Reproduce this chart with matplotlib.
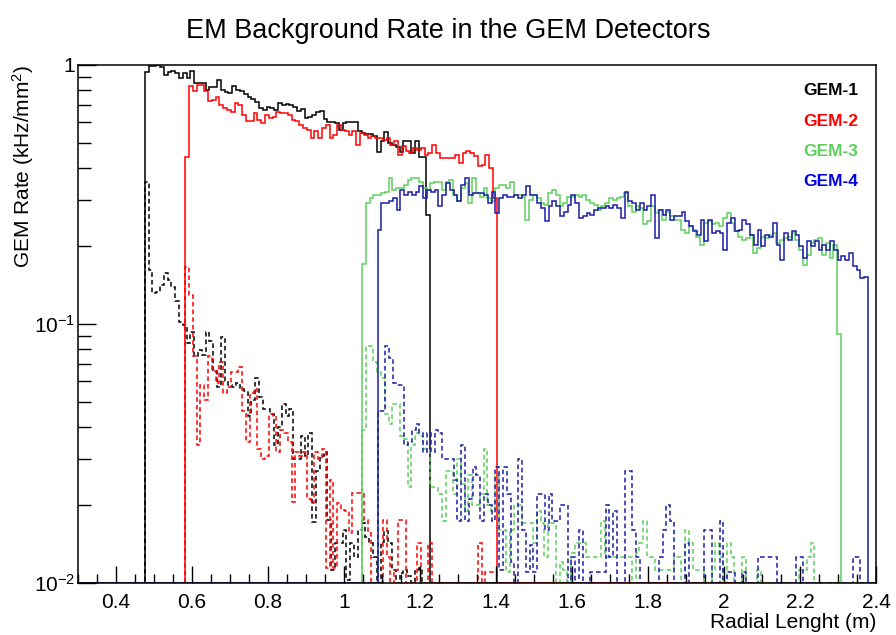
import numpy as np
import matplotlib
matplotlib.use("Agg")
import matplotlib.pyplot as plt
from matplotlib.lines import Line2D
from matplotlib.ticker import FixedLocator, MultipleLocator, LogLocator, NullFormatter

plt.rcParams['font.family'] = ['Liberation Sans', 'DejaVu Sans']
plt.rcParams['mathtext.fontset'] = 'custom'
plt.rcParams['mathtext.rm'] = 'Liberation Sans'
plt.rcParams['mathtext.it'] = 'Liberation Sans:italic'

# histogram binning (m)
bin_width = 0.01
start_gem1 = 0.476
start_gem2 = 0.582
start_gem3 = 1.047
start_gem4 = 1.088

# total rate (solid), kHz/mm^2
gem1_total = [0.94, 0.99, 0.99, 1.0, 0.98, 0.915, 0.94, 0.95, 0.93, 0.89, 0.93, 0.89, 0.95, 0.85, 0.85,
              0.85, 0.80, 0.82, 0.82, 0.875, 0.80, 0.787, 0.78, 0.83, 0.80, 0.79, 0.77, 0.754, 0.74, 0.72,
              0.68, 0.67, 0.69, 0.68, 0.67, 0.71, 0.70, 0.705, 0.70, 0.69, 0.665, 0.675, 0.625, 0.63, 0.64,
              0.66, 0.665, 0.62, 0.60, 0.60, 0.595, 0.56, 0.595, 0.60, 0.60, 0.60, 0.555, 0.545, 0.54, 0.54,
              0.53, 0.46, 0.51, 0.55, 0.50, 0.49, 0.48, 0.46, 0.51, 0.51, 0.455, 0.51, 0.44, 0.44, 0.263]
gem2_total = [0.44, 0.825, 0.789, 0.837, 0.837, 0.789, 0.722, 0.733, 0.754, 0.701, 0.681, 0.670, 0.660,
              0.711, 0.701, 0.641, 0.604, 0.604, 0.651, 0.613, 0.595, 0.641, 0.622, 0.631, 0.660, 0.651,
              0.651, 0.641, 0.613, 0.604, 0.586, 0.569, 0.561, 0.521, 0.553, 0.521, 0.569, 0.586, 0.521,
              0.537, 0.586, 0.561, 0.553, 0.537, 0.553, 0.491, 0.545, 0.537, 0.521, 0.529, 0.521, 0.521,
              0.513, 0.521, 0.491, 0.506, 0.449, 0.484, 0.463, 0.456, 0.477, 0.470, 0.477, 0.449, 0.456,
              0.491, 0.456, 0.436, 0.436, 0.436, 0.436, 0.449, 0.417, 0.456, 0.463, 0.456, 0.443, 0.405,
              0.411, 0.449, 0.399, 0.306]
gem3_total = [0.170, 0.292, 0.306, 0.315, 0.315, 0.320, 0.324, 0.366, 0.329, 0.334, 0.334, 0.344, 0.360,
              0.366, 0.366, 0.354, 0.334, 0.329, 0.349, 0.354, 0.354, 0.329, 0.354, 0.360, 0.315, 0.297,
              0.334, 0.349, 0.292, 0.366, 0.320, 0.310, 0.334, 0.306, 0.297, 0.334, 0.344, 0.344, 0.334,
              0.354, 0.315, 0.315, 0.310, 0.252, 0.301, 0.315, 0.306, 0.292, 0.288, 0.320, 0.329, 0.315,
              0.284, 0.292, 0.310, 0.310, 0.315, 0.310, 0.315, 0.301, 0.292, 0.288, 0.275, 0.284, 0.292,
              0.306, 0.301, 0.306, 0.310, 0.320, 0.284, 0.271, 0.284, 0.279, 0.242, 0.249, 0.284, 0.267,
              0.275, 0.252, 0.271, 0.260, 0.252, 0.252, 0.231, 0.224, 0.238, 0.231, 0.217, 0.202, 0.245,
              0.249, 0.242, 0.245, 0.238, 0.256, 0.267, 0.245, 0.228, 0.217, 0.211, 0.214, 0.221, 0.187,
              0.196, 0.217, 0.214, 0.221, 0.224, 0.205, 0.211, 0.214, 0.217, 0.224, 0.211, 0.193, 0.169,
              0.185, 0.205, 0.211, 0.214, 0.185, 0.205, 0.179, 0.202, 0.091]
gem4_total = [0.231, 0.292, 0.292, 0.297, 0.306, 0.275, 0.329, 0.315, 0.324, 0.315, 0.324, 0.339, 0.306,
              0.329, 0.324, 0.329, 0.284, 0.315, 0.349, 0.329, 0.315, 0.297, 0.344, 0.366, 0.315, 0.320,
              0.320, 0.320, 0.315, 0.292, 0.324, 0.267, 0.306, 0.315, 0.310, 0.310, 0.315, 0.306, 0.315,
              0.339, 0.315, 0.315, 0.292, 0.279, 0.249, 0.284, 0.297, 0.284, 0.260, 0.271, 0.288, 0.315,
              0.292, 0.256, 0.260, 0.267, 0.264, 0.275, 0.279, 0.279, 0.284, 0.279, 0.288, 0.279, 0.256,
              0.324, 0.297, 0.292, 0.275, 0.292, 0.275, 0.284, 0.315, 0.214, 0.275, 0.264, 0.275, 0.252,
              0.260, 0.260, 0.271, 0.249, 0.238, 0.228, 0.221, 0.252, 0.208, 0.252, 0.224, 0.228, 0.224,
              0.193, 0.245, 0.256, 0.228, 0.231, 0.252, 0.242, 0.221, 0.202, 0.231, 0.199, 0.221, 0.217,
              0.245, 0.202, 0.177, 0.224, 0.211, 0.228, 0.221, 0.199, 0.179, 0.208, 0.199, 0.208, 0.193,
              0.202, 0.193, 0.208, 0.193, 0.177, 0.182, 0.177, 0.187, 0.167, 0.162, 0.150, 0.152]

# EM background part (dashed)
gem1_em = [0.354, 0.162, 0.131, 0.133, 0.141, 0.157, 0.148, 0.139, 0.122, 0.102, 0.099, 0.084, 0.093,
           0.075, 0.079, 0.076, 0.093, 0.086, 0.066, 0.057, 0.089, 0.060, 0.058, 0.057, 0.059, 0.056,
           0.055, 0.044, 0.051, 0.062, 0.052, 0.047, 0.047, 0.045, 0.034, 0.040, 0.049, 0.044, 0.047,
           0.030, 0.030, 0.037, 0.031, 0.038, 0.0172, 0.027, 0.031, 0.032, 0.0175, 0.0112, 0.0142,
           0.0142, 0.016, 0.0103, 0.0142, 0.0126, 0.016, 0.017, 0.0151, 0.0142, 0.0126, 0.0, 0.0144,
           0.0158, 0.0142, 0.0112, 0.0, 0.0109, 0.0112, 0.0106, 0.0, 0.0112, 0.0114, 0.0, 0.0]
gem2_em = [0.166, 0.129, 0.075, 0.034, 0.058, 0.051, 0.075, 0.066, 0.059, 0.071, 0.054, 0.057, 0.065,
           0.065, 0.068, 0.046, 0.035, 0.054, 0.056, 0.033, 0.030, 0.031, 0.045, 0.044, 0.032, 0.039,
           0.038, 0.035, 0.0206, 0.032, 0.031, 0.032, 0.021, 0.0203, 0.032, 0.030, 0.033, 0.0114, 0.025,
           0.0114, 0.0203, 0.0191, 0.0189, 0.0156, 0.0222, 0.0222, 0.0222, 0.0175, 0.0156, 0.0, 0.0,
           0.0, 0.0175, 0.0126, 0.0, 0.0112, 0.0175, 0.0175, 0.0, 0.0, 0.0, 0.0143, 0.0, 0.0, 0.0143,
           0.0, 0.0, 0.0, 0.0, 0.0, 0.0, 0.0, 0.0, 0.0, 0.0, 0.0, 0.0, 0.0143, 0.0, 0.011, 0.011, 0.011]
gem3_em = [0.039, 0.082, 0.082, 0.071, 0.065, 0.062, 0.045, 0.041, 0.049, 0.049, 0.037, 0.036, 0.0235,
           0.034, 0.038, 0.037, 0.033, 0.033, 0.0235, 0.0235, 0.022, 0.0173, 0.027, 0.027, 0.022, 0.030,
           0.024, 0.019, 0.026, 0.020, 0.020, 0.022, 0.033, 0.020, 0.019, 0.026, 0.016, 0.016, 0.011,
           0.016, 0.020, 0.020, 0.017, 0.017, 0.017, 0.0142, 0.019, 0.017, 0.0126, 0.017, 0.017, 0.0,
           0.012, 0.0112, 0.0, 0.013, 0.0142, 0.0142, 0.0142, 0.0126, 0.0126, 0.0126, 0.0126, 0.0173,
           0.0126, 0.0126, 0.0126, 0.0126, 0.0126, 0.0126, 0.0126, 0.0, 0.013, 0.0142, 0.0173, 0.0126,
           0.0126, 0.0112, 0.0112, 0.0112, 0.0112, 0.0112, 0.0126, 0.0126, 0.0, 0.016, 0.0142, 0.0112,
           0.0112, 0.0112, 0.0, 0.0, 0.0112, 0.0142, 0.0126, 0.0, 0.0142, 0.0126, 0.0, 0.0, 0.0126, 0.0,
           0.0, 0.0, 0.0112, 0.0, 0.0, 0.0, 0.0, 0.0, 0.0, 0.0, 0.0, 0.0, 0.0, 0.0112, 0.0112, 0.0126,
           0.0142, 0.0, 0.0, 0.0, 0.0, 0.0, 0.0, 0.0]
gem4_em = [0.046, 0.046, 0.082, 0.074, 0.059, 0.058, 0.058, 0.034, 0.035, 0.039, 0.041, 0.038, 0.032,
           0.038, 0.032, 0.039, 0.038, 0.030, 0.030, 0.030, 0.025, 0.0173, 0.034, 0.0173, 0.021, 0.028,
           0.026, 0.0173, 0.022, 0.020, 0.0173, 0.028, 0.0112, 0.028, 0.022, 0.012, 0.0, 0.030, 0.016,
           0.011, 0.014, 0.011, 0.022, 0.022, 0.016, 0.022, 0.0173, 0.0173, 0.020, 0.020, 0.0, 0.0126,
           0.0, 0.016, 0.0, 0.0, 0.011, 0.011, 0.011, 0.011, 0.020, 0.0126, 0.019, 0.0, 0.0, 0.027, 0.027,
           0.016, 0.0126, 0.0, 0.0, 0.0, 0.0, 0.0, 0.0126, 0.016, 0.020, 0.0173, 0.0, 0.0, 0.0, 0.0142,
           0.0, 0.0, 0.0, 0.0, 0.016, 0.016, 0.0, 0.0, 0.0173, 0.0, 0.011, 0.011, 0.0, 0.0, 0.011, 0.0,
           0.0, 0.0, 0.0126, 0.0126, 0.0126, 0.0126, 0.0126, 0.0, 0.0, 0.0, 0.0, 0.0, 0.0126, 0.0126,
           0.0, 0.0, 0.0, 0.0, 0.0, 0.0, 0.0, 0.0, 0.0, 0.0, 0.0, 0.0, 0.0, 0.0126, 0.0126, 0.0, 0.0]

labels = ['GEM-1', 'GEM-2', 'GEM-3', 'GEM-4']
line_colors = ['#000000', '#ff0000', '#5ccf5c', '#1c1ca8']
text_colors = ['#000000', '#ff0000', '#5ccf5c', '#0000e0']

xlim = (0.3, 2.4)
ylim = (0.01, 1.0)
ytick_vals = [0.01, 0.1, 1.0]
ytick_labels = ['10$^{-2}$', '10$^{-1}$', '1']


def draw_hist(ax, start, values, color, style):
    # ROOT-like outline: empty bins sit on the bottom of the log frame
    vals = np.concatenate([[0.0], values, [0.0]])
    inner = start + bin_width * np.arange(len(values) + 1)
    edges = np.concatenate([[xlim[0]], inner, [xlim[1]]])
    vals = np.clip(vals, ylim[0], None)
    ax.stairs(vals, edges, baseline=None, color=color, linewidth=1.1,
              linestyle=style, clip_on=True)


fig = plt.figure(figsize=(8.96, 6.35), dpi=100)
ax = fig.add_axes([0.087, 0.082, 0.891, 0.816])

series = [(start_gem1, gem1_total, gem1_em),
          (start_gem2, gem2_total, gem2_em),
          (start_gem3, gem3_total, gem3_em),
          (start_gem4, gem4_total, gem4_em)]
for (start, tot, em), col in zip(series, line_colors):
    draw_hist(ax, start, tot, col, '-')
    draw_hist(ax, start, em, col, (0, (3, 2)))

ax.set_yscale('log')
ax.set_xlim(*xlim)
ax.set_ylim(*ylim)

ax.xaxis.set_minor_locator(MultipleLocator(0.05))
ax.set_xticks([0.4, 0.6, 0.8, 1.0, 1.2, 1.4, 1.6, 1.8, 2.0, 2.2, 2.4])
ax.set_xticklabels(['0.4', '0.6', '0.8', '1', '1.2', '1.4', '1.6', '1.8', '2', '2.2', '2.4'])
ax.yaxis.set_major_locator(FixedLocator(ytick_vals))
ax.set_yticklabels(ytick_labels)
ax.yaxis.set_minor_locator(LogLocator(base=10, subs=np.arange(2, 10)))
ax.yaxis.set_minor_formatter(NullFormatter())

ax.tick_params(axis='x', which='major', direction='in', length=12, width=1, labelsize=15, pad=7)
ax.tick_params(axis='x', which='minor', direction='in', length=6.5, width=1)
ax.tick_params(axis='y', which='major', direction='in', length=13, width=1, labelsize=15, pad=2)
ax.tick_params(axis='y', which='minor', direction='in', length=9, width=1)
for s in ax.spines.values():
    s.set_linewidth(1.1)

ax.set_xlabel('Radial Lenght (m)', fontsize=15, loc='right', labelpad=1)
ax.set_ylabel('GEM Rate (kHz/mm$^2$)', fontsize=15, loc='top')
ax.yaxis.set_label_coords(-0.052, 1.0)
fig.suptitle('EM Background Rate in the GEM Detectors', fontsize=19.5, y=0.972)

handles = [Line2D([], [], linestyle='none') for _ in labels]
leg = ax.legend(handles, labels, loc='upper right', handlelength=0, handletextpad=0,
                labelcolor=text_colors, prop={'weight': 'bold', 'size': 12.5},
                frameon=True, facecolor='white', edgecolor='none', framealpha=1,
                fancybox=False, labelspacing=0.88, borderpad=0.75, borderaxespad=0.3)

fig.savefig('out.png', dpi=100)
